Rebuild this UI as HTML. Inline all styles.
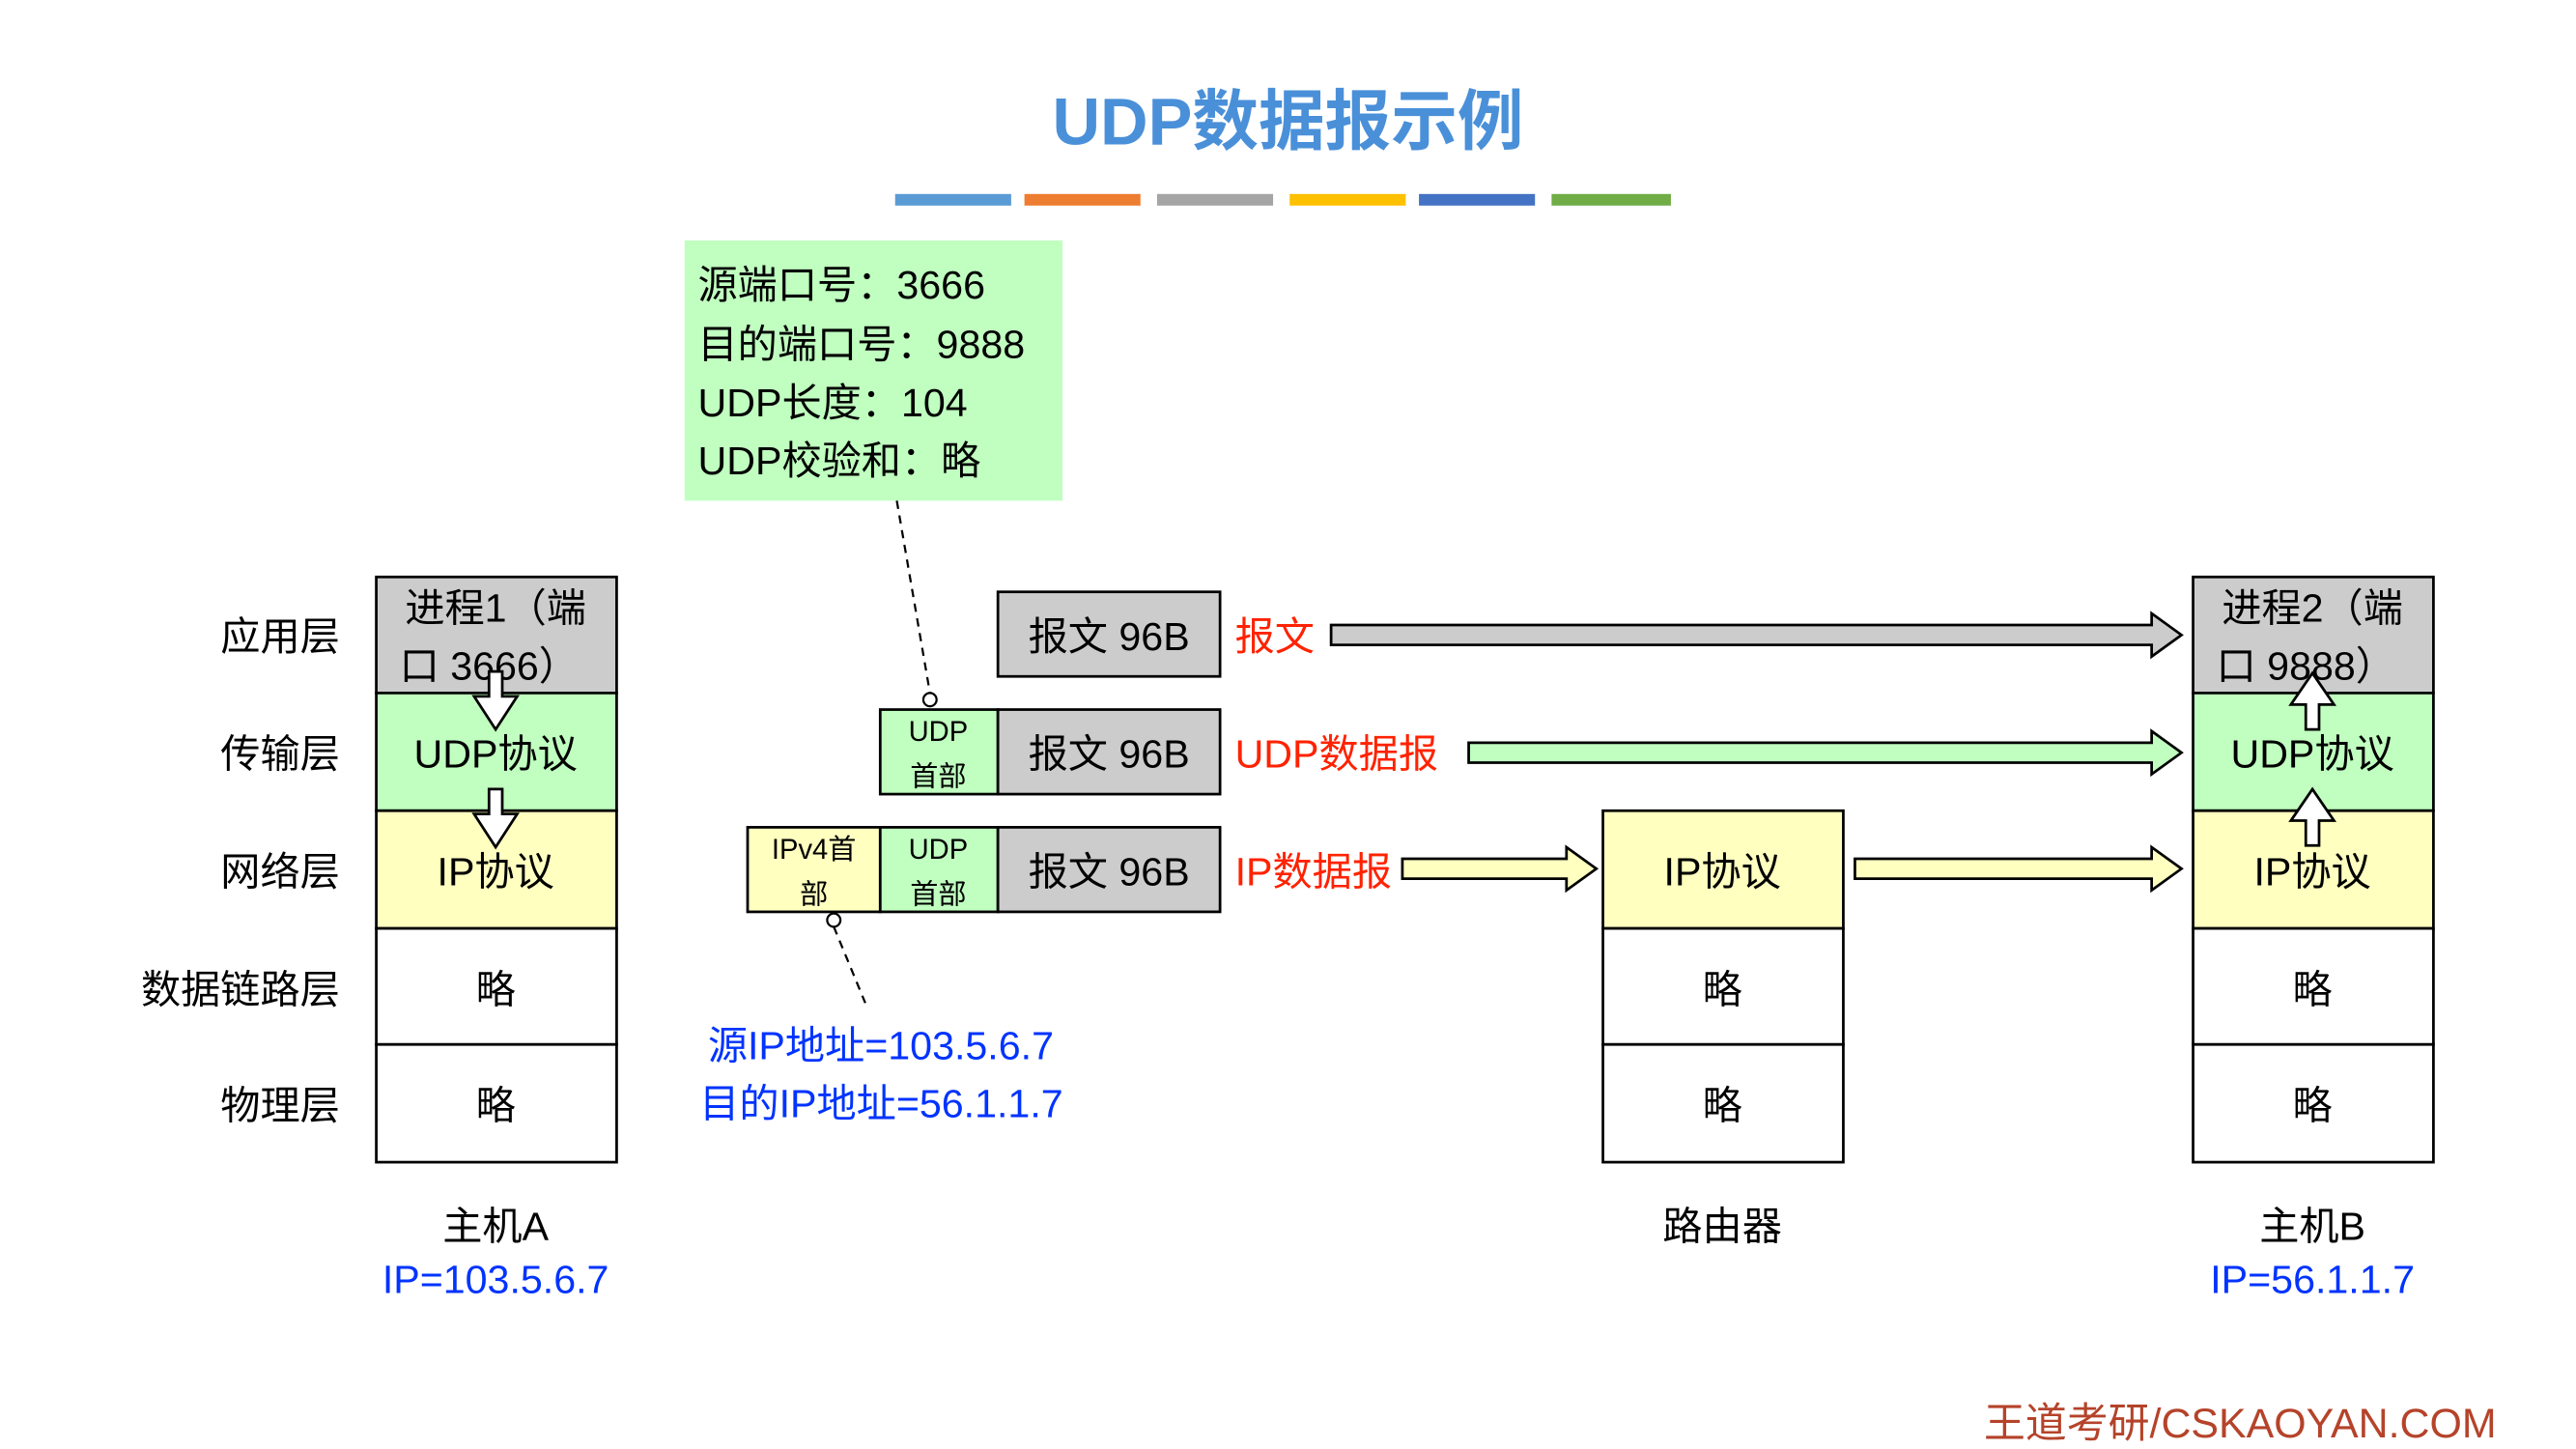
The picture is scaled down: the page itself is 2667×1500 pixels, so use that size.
<!DOCTYPE html>
<html><head><meta charset="utf-8"><style>
html,body{margin:0;padding:0;background:#fff;}
svg{display:block;}
text{font-family:"Liberation Sans","Noto Sans CJK SC",sans-serif;}
</style></head><body>
<svg width="2667" height="1500" viewBox="0 0 1554 874" xmlns="http://www.w3.org/2000/svg">
<rect width="1554" height="874" fill="#fff"/>
<text x="777" y="87" font-size="40" font-weight="bold" fill="#4a90d9" text-anchor="middle">UDP数据报示例</text>
<g>
<rect x="540" y="117" width="70" height="7" fill="#5b9bd5"/>
<rect x="618" y="117" width="70" height="7" fill="#ed7d31"/>
<rect x="698" y="117" width="70" height="7" fill="#a5a5a5"/>
<rect x="778" y="117" width="70" height="7" fill="#ffc000"/>
<rect x="856" y="117" width="70" height="7" fill="#4472c4"/>
<rect x="936" y="117" width="72" height="7" fill="#70ad47"/>
</g>
<rect x="413" y="145" width="228" height="157" fill="#c0ffc0"/>
<g font-size="24" fill="#000">
<text x="421" y="180">源端口号：3666</text>
<text x="421" y="216">目的端口号：9888</text>
<text x="421" y="251">UDP长度：104</text>
<text x="421" y="286">UDP校验和：略</text>
</g>
<g stroke="#000" stroke-width="1.3" fill="none" stroke-dasharray="5,4">
<line x1="541" y1="302" x2="561" y2="418"/>
<line x1="503" y1="559" x2="522" y2="605"/>
</g>
<circle cx="561" cy="422" r="4" fill="#fff" stroke="#000" stroke-width="1.3"/>
<circle cx="503" cy="555" r="4" fill="#fff" stroke="#000" stroke-width="1.3"/>
<g font-size="24" fill="#000" text-anchor="end">
<text x="205" y="392">应用层</text>
<text x="205" y="463">传输层</text>
<text x="205" y="534">网络层</text>
<text x="205" y="605">数据链路层</text>
<text x="205" y="675">物理层</text>
</g>
<g stroke="#000" stroke-width="1.6">
<rect x="227" y="348" width="145" height="70" fill="#cccccc"/>
<rect x="227" y="418" width="145" height="71" fill="#c0ffc0"/>
<rect x="227" y="489" width="145" height="71" fill="#ffffc0"/>
<rect x="227" y="560" width="145" height="70" fill="#fff"/>
<rect x="227" y="630" width="145" height="71" fill="#fff"/>
<rect x="1323" y="348" width="145" height="70" fill="#cccccc"/>
<rect x="1323" y="418" width="145" height="71" fill="#c0ffc0"/>
<rect x="1323" y="489" width="145" height="71" fill="#ffffc0"/>
<rect x="1323" y="560" width="145" height="70" fill="#fff"/>
<rect x="1323" y="630" width="145" height="71" fill="#fff"/>
<rect x="967" y="489" width="145" height="71" fill="#ffffc0"/>
<rect x="967" y="560" width="145" height="70" fill="#fff"/>
<rect x="967" y="630" width="145" height="71" fill="#fff"/>
<rect x="602" y="357" width="134" height="51" fill="#cccccc"/>
<rect x="531" y="428" width="71" height="51" fill="#c0ffc0"/>
<rect x="602" y="428" width="134" height="51" fill="#cccccc"/>
<rect x="451" y="499" width="80" height="51" fill="#ffffc0"/>
<rect x="531" y="499" width="71" height="51" fill="#c0ffc0"/>
<rect x="602" y="499" width="134" height="51" fill="#cccccc"/>
</g>
<g font-size="24" fill="#000" text-anchor="middle">
<text x="299" y="375">进程1（端</text>
<text x="295" y="410">口 3666）</text>
<text x="299" y="463">UDP协议</text>
<text x="299" y="534">IP协议</text>
<text x="299" y="605">略</text>
<text x="299" y="675">略</text>
<text x="1395" y="375">进程2（端</text>
<text x="1391" y="410">口 9888）</text>
<text x="1395" y="463">UDP协议</text>
<text x="1395" y="534">IP协议</text>
<text x="1395" y="605">略</text>
<text x="1395" y="675">略</text>
<text x="1039" y="534">IP协议</text>
<text x="1039" y="605">略</text>
<text x="1039" y="675">略</text>
<text x="669" y="392">报文 96B</text>
<text x="669" y="463">报文 96B</text>
<text x="669" y="534">报文 96B</text>
<text x="299" y="748">主机A</text>
<text x="1039" y="748">路由器</text>
<text x="1395" y="748">主机B</text>
</g>
<g font-size="17" fill="#000" text-anchor="middle">
<text x="566" y="447">UDP</text>
<text x="566" y="474">首部</text>
<text x="566" y="518">UDP</text>
<text x="566" y="545">首部</text>
<text x="491" y="518">IPv4首</text>
<text x="491" y="545">部</text>
</g>
<g font-size="24" fill="#0033ff" text-anchor="middle">
<text x="299" y="780">IP=103.5.6.7</text>
<text x="1395" y="780">IP=56.1.1.7</text>
</g>
<g font-size="24" fill="#0033ff">
<text x="427" y="639">源IP地址=103.5.6.7</text>
<text x="422" y="674">目的IP地址=56.1.1.7</text>
</g>
<g font-size="24" fill="#ff2200">
<text x="745" y="392">报文</text>
<text x="745" y="463">UDP数据报</text>
<text x="745" y="534">IP数据报</text>
</g>
<g stroke="#000" stroke-width="1.6">
<polygon points="803,377 1298,377 1298,370 1316,383 1298,396 1298,389 803,389" fill="#cccccc"/>
<polygon points="886,448 1298,448 1298,441 1316,454 1298,467 1298,460 886,460" fill="#c0ffc0"/>
<polygon points="846,518 945,518 945,511 963,524 945,537 945,530 846,530" fill="#ffffc0"/>
<polygon points="1119,518 1298,518 1298,511 1316,524 1298,537 1298,530 1119,530" fill="#ffffc0"/>
<polygon points="295,405 303,405 303,420 312,420 299,440 286,420 295,420" fill="#fff"/>
<polygon points="295,476 303,476 303,491 312,491 299,511 286,491 295,491" fill="#fff"/>
<polygon points="1391,440 1399,440 1399,425 1408,425 1395,406 1382,425 1391,425" fill="#fff"/>
<polygon points="1391,510 1399,510 1399,495 1408,495 1395,476 1382,495 1391,495" fill="#fff"/>
</g>
<text x="1506" y="867" font-size="25" fill="#b5432a" text-anchor="end">王道考研/CSKAOYAN.COM</text>
</svg>
</body></html>
